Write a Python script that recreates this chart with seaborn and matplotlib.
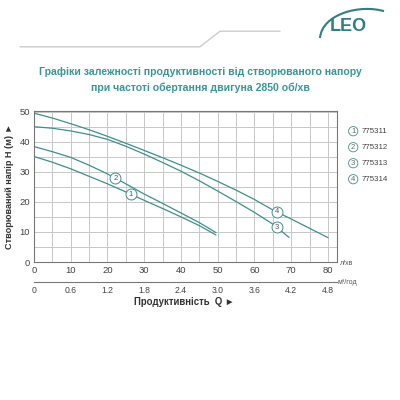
import numpy as np
import pandas as pd
import seaborn as sns
import matplotlib.pyplot as plt
from matplotlib.path import Path
from matplotlib.patches import PathPatch

# curve data (flow l/min, head m)
q1 = [0, 5, 10, 15, 20, 25, 30, 35, 40, 45, 49.5]
h1 = [35.1, 33.2, 31.0, 28.5, 26.0, 23.3, 20.5, 17.8, 15.0, 12.1, 9.0]
q2 = [0, 5, 10, 15, 20, 25, 30, 35, 40, 45, 49.5]
h2 = [38.4, 36.7, 34.8, 32.2, 29.3, 26.0, 22.6, 19.5, 16.3, 13.1, 9.8]
q3 = [0, 5, 10, 15, 20, 25, 30, 35, 40, 45, 50, 55, 60, 65, 69.4]
h3 = [45.0, 44.5, 43.6, 42.4, 40.8, 38.5, 35.9, 33.1, 30.2, 27.0, 23.6, 20.1, 16.5, 12.6, 8.2]
q4 = [0, 5, 10, 15, 20, 25, 30, 35, 40, 45, 50, 55, 60, 65, 70, 75, 80]
h4 = [49.5, 47.9, 46.0, 44.0, 41.8, 39.5, 37.1, 34.7, 32.2, 29.6, 26.8, 23.9, 20.8, 17.3, 14.3, 11.2, 8.1]
models = ["775311", "775312", "775313", "775314"]
label_q = [26.4, 22.1, 66.2, 66.2]
label_h = [22.5, 27.8, 11.6, 16.7]
x_ticks = [0, 10, 20, 30, 40, 50, 60, 70, 80]
m3_labels = ["0", "0.6", "1.2", "1.8", "2.4", "3.0", "3.6", "4.2", "4.8"]
y_ticks = [0, 10, 20, 30, 40, 50]

teal = "#3f8f8f"
sns.set_style("white")
plt.rcParams['font.family'] = ['Liberation Sans', 'DejaVu Sans']

frames = []
for i, (q, h) in enumerate([(q1, h1), (q2, h2), (q3, h3), (q4, h4)]):
    frames.append(pd.DataFrame({"q": q, "h": h, "model": models[i]}))
df = pd.concat(frames)

fig = plt.figure(figsize=(4, 4), dpi=100)
ax = fig.add_axes([0.085, 0.345, 0.757, 0.3765])
sns.lineplot(data=df, x="q", y="h", units="model", estimator=None,
             color=teal, lw=0.9, ax=ax, legend=False)
ax.set_xlim(0, 82.4)
ax.set_ylim(0, 50.1)
ax.set_xticks(np.arange(0, 85, 5), minor=True)
ax.set_yticks(np.arange(0, 55, 5), minor=True)
ax.set_xticks(x_ticks)
ax.set_yticks(y_ticks)
ax.grid(which="both", color="#c8c8c8", lw=0.7)
ax.set_axisbelow(True)
for s in ax.spines.values():
    s.set_color("#777777")
    s.set_linewidth(0.8)
ax.tick_params(labelsize=6.8, colors="#444444", length=0, pad=3)
ax.set_xlabel("")
ax.set_ylabel("Створюваний напір H (м) ►", fontsize=6.6, fontweight="bold",
              color="#333333", labelpad=4)

# numbered markers on curves
ax.scatter(label_q, label_h, s=62, facecolor="white", edgecolor=teal, lw=0.7, zorder=3)
for i in range(4):
    ax.text(label_q[i], label_h[i], str(i + 1), ha="center", va="center", fontsize=5.5,
            color="#555555", zorder=4)

# secondary flow axis in m3/h
ax2 = fig.add_axes([0.085, 0.296, 0.757, 0.001])
ax2.set_xlim(0, 82.4)
ax2.set_yticks([])
for s in ["top", "left", "right"]:
    ax2.spines[s].set_visible(False)
ax2.spines["bottom"].set_color("#777777")
ax2.spines["bottom"].set_linewidth(0.8)
ax2.set_xticks(x_ticks)
ax2.set_xticklabels(m3_labels)
ax2.tick_params(axis="x", direction="in", length=3, width=0.8, colors="#777777",
                labelsize=6.2, labelcolor="#444444", pad=3)

fig.text(0.85, 0.338, "л/хв", fontsize=5, color="#555555")
fig.text(0.845, 0.29, "м³/год", fontsize=5, color="#555555")
fig.text(0.46, 0.237, "Продуктивність  Q ►", fontsize=6.9, fontweight="bold",
         color="#333333", ha="center")

# legend
for i, m in enumerate(models):
    yy = 0.672 - i * 0.04
    fig.text(0.883, yy, str(i + 1), ha="center", va="center", fontsize=5.5, color="#666666",
             bbox=dict(boxstyle="circle,pad=0.15", fc="white", ec=teal, lw=0.6))
    fig.text(0.904, yy, m, va="center", fontsize=5.7, color="#444444")

# header
fig.text(0.5, 0.812, "Графіки залежності продуктивності від створюваного напору",
         ha="center", fontsize=7.6, fontweight="bold", color="#3a9696")
fig.text(0.5, 0.772, "при частоті обертання двигуна 2850 об/хв",
         ha="center", fontsize=7.6, fontweight="bold", color="#3a9696")
fig.add_artist(plt.Line2D([0.05, 0.5, 0.55, 0.7], [0.883, 0.883, 0.922, 0.922],
                          color="#cccccc", lw=1.0, transform=fig.transFigure))
fig.text(0.87, 0.933, "LEO", ha="center", va="center", fontsize=13, fontweight="bold",
         color="#2f7f88")
swoosh = Path([(0.8, 0.905), (0.805, 0.965), (0.9, 0.99), (0.96, 0.972)],
              [Path.MOVETO, Path.CURVE4, Path.CURVE4, Path.CURVE4])
fig.add_artist(PathPatch(swoosh, fc="none", ec="#2f7f88", lw=1.5, transform=fig.transFigure))

fig.savefig("out.png", dpi=100, facecolor="white")
